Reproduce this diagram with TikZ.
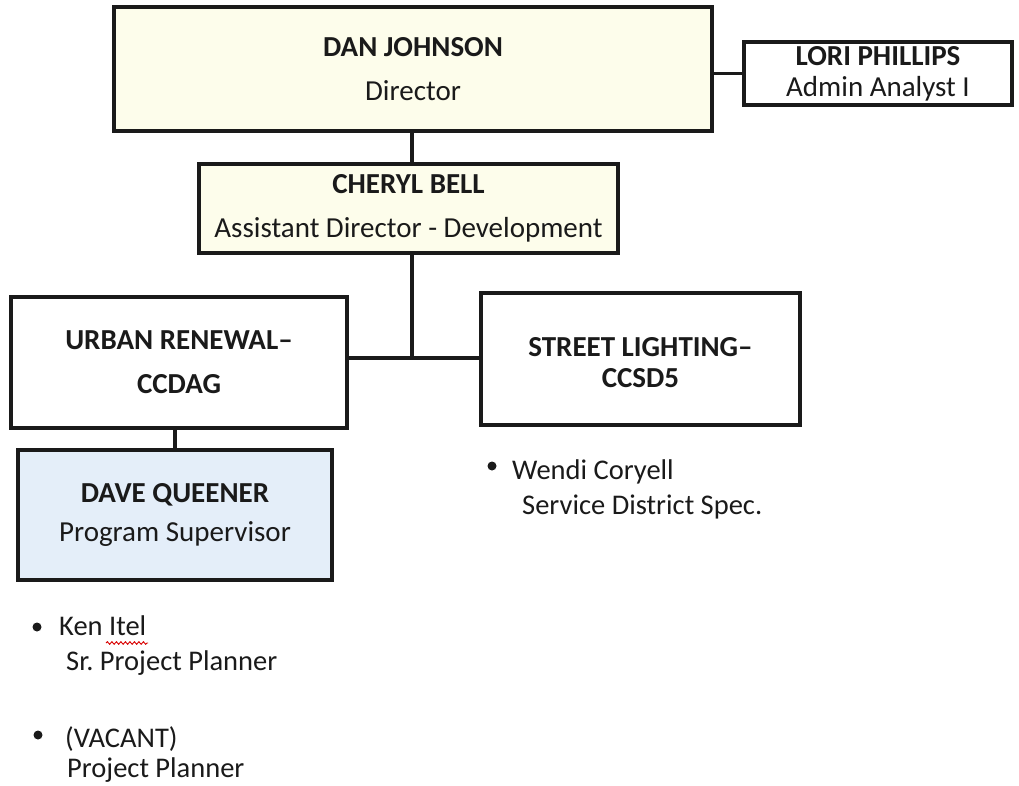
\documentclass[tikz,border=0pt]{standalone}
\usepackage{fontspec}
\setmainfont{Carlito}
\frenchspacing
\usetikzlibrary{decorations.pathmorphing}
\definecolor{paleyellow}{HTML}{FDFDEB}
\definecolor{paleblue}{HTML}{E4EEF9}
\definecolor{ink}{HTML}{1A1A1A}
\begin{document}
\begin{tikzpicture}[x=1pt,y=-1pt,
  box/.style={draw=ink, text=ink, line width=3.2pt, align=center, inner sep=0pt},
  conn/.style={draw=ink, line width=3.2pt},
  ftxt/.style={font=\fontsize{29}{#1}\selectfont},
  dot/.style={circle, fill=ink, inner sep=0pt, minimum size=9pt},
  item/.style={anchor=base west, inner sep=0pt, text=ink, font=\fontsize{28.5}{35}\selectfont}]
\useasboundingbox (0,0) rectangle (1019,786);
\fill[white] (0,0) rectangle (1019,786);

\node[box, fill=paleyellow, minimum width=598pt, minimum height=124pt, ftxt=44] (dan) at (413,69)
  {\textbf{DAN JOHNSON}\\Director};
\node[box, fill=white, minimum width=268pt, minimum height=63pt, ftxt=31] (lori) at (878,73.5)
  {\textbf{LORI PHILLIPS}\\Admin Analyst I};
\node[box, fill=paleyellow, minimum width=419pt, minimum height=89pt, ftxt=44] (cheryl) at (408.5,208.5)
  {\textbf{CHERYL BELL}\\Assistant Director - Development};
\node[box, fill=white, minimum width=336pt, minimum height=131pt, ftxt=44] (urban) at (179,362.5)
  {\textbf{URBAN RENEWAL–}\\\textbf{CCDAG}};
\node[box, fill=white, minimum width=319pt, minimum height=132pt] (street) at (640.5,359) {};
\node[ftxt=31, align=center, text=ink, inner sep=0pt] (streetlbl) at ([yshift=-4pt]street.center)
  {\textbf{STREET LIGHTING–}\\\textbf{CCSD5}};
\node[box, fill=paleblue, minimum width=314pt, minimum height=130pt, ftxt=39] (dave) at (175,515)
  {\textbf{DAVE QUEENER}\\Program Supervisor};

\coordinate (j) at (412,358);
\draw[conn] (dan.south -| j) -- (cheryl.north -| j);
\draw[conn] (cheryl.south -| j) -- (j);
\draw[conn] (urban.east |- j) -- (street.west |- j);
\draw[conn] (dave.north) -- (dave.north |- urban.south);
\draw[conn] (dan.east |- lori.west) -- (lori.west);

% Street lighting staff
\node[dot] (b1) at (492,466) {};
\node[item] (wendi) at (512,479) {Wendi Coryell};
\node[item] (wendit) at (522,514) {Service District Spec.};

% Urban renewal staff
\node[dot] (b2) at (37,627) {};
\node[item] (ken) at (59,635) {Ken Itel};
\node[item] (kent) at (66,670) {Sr. Project Planner};
\draw[red!85!black, line width=0.9pt, decorate, decoration={snake, amplitude=1.3pt, segment length=4.5pt}]
  (106,643) -- (148,643);
\node[dot] (b3) at (38,735) {};
\node[item] (vac) at (65,747) {(VACANT)};
\node[item] (vact) at (67,777) {Project Planner};
\end{tikzpicture}
\end{document}
